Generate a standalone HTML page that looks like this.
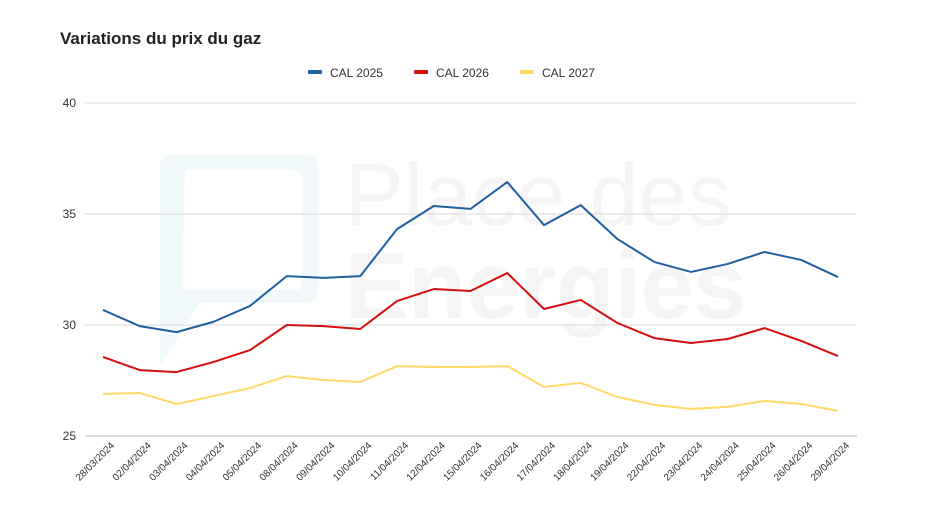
<!DOCTYPE html>
<html><head><meta charset="utf-8"><style>
body{margin:0;background:#fff;width:936px;height:526px;overflow:hidden;font-family:"Liberation Sans",Arial,sans-serif}
svg{display:block}
</style></head><body>
<svg id="chart" width="936" height="526" xmlns="http://www.w3.org/2000/svg">
<g opacity="0.5">
<path d="M172 155 H305 Q318 155 318 168 V290 Q318 303 305 303 H200 L160 365 V168 Q160 155 172 155 Z" fill="#e6f4f7"/>
<path d="M185 170 H295 Q302 170 302 177 V283 Q302 290 295 290 H192 Q180 290 182 278 Z" fill="#fff"/>
<text x="345" y="225" font-size="88" fill="#ececec" font-weight="300">Place des</text>
<text x="345" y="318" font-size="95" fill="#ececec" font-weight="bold">Energies</text>
</g>
<text x="60" y="44" font-size="17" font-weight="bold" fill="#222">Variations du prix du gaz</text>
<g id="legend"></g>
<g id="grid"></g><g id="lines"></g><g id="xlabels"></g>
</svg>
<script>
const categories=["28/03/2024","02/04/2024","03/04/2024","04/04/2024","05/04/2024","08/04/2024","09/04/2024","10/04/2024","11/04/2024","12/04/2024","15/04/2024","16/04/2024","17/04/2024","18/04/2024","19/04/2024","22/04/2024","23/04/2024","24/04/2024","25/04/2024","26/04/2024","29/04/2024"];
const cal2025=[30.68,29.95,29.68,30.14,30.86,32.2,32.12,32.2,34.32,35.36,35.23,36.44,34.5,35.4,33.87,32.84,32.39,32.75,33.29,32.93,32.16];
const cal2026=[28.56,27.97,27.88,28.33,28.87,30.0,29.95,29.82,31.08,31.62,31.53,32.34,30.72,31.13,30.09,29.41,29.19,29.37,29.86,29.28,28.6];
const cal2027=[26.89,26.94,26.44,26.8,27.16,27.7,27.52,27.43,28.15,28.11,28.11,28.15,27.21,27.39,26.76,26.4,26.22,26.31,26.58,26.44,26.13];
const yTicks=[25,30,35,40];
const seriesNames=["CAL 2025","CAL 2026","CAL 2027"];
const NS="http://www.w3.org/2000/svg";
const x0=103,x1=838,yTop=103,yBot=436,vMin=25,vMax=40;
const xs=i=>x0+(x1-x0)*i/(categories.length-1);
const ys=v=>yBot-(v-vMin)/(vMax-vMin)*(yBot-yTop);
function mk(t,a,p){const e=document.createElementNS(NS,t);for(const k in a)e.setAttribute(k,a[k]);p.appendChild(e);return e;}
const grid=document.getElementById('grid');
yTicks.forEach(v=>{
 const l=mk('line',{x1:85,x2:857,y1:ys(v),y2:ys(v),stroke:v===25?'#bbb':'#d9d9d9','stroke-width':1},grid);
 
 
 const t=mk('text',{x:76,y:ys(v)+4,'font-size':12,fill:'#333','text-anchor':'end'},grid);
 t.textContent=v;
 
 
});
const colors=["#1f5fa0","#d40f0f","#ffd966"];
const series=[cal2025,cal2026,cal2027];
const lines=document.getElementById('lines');
series.slice().reverse().forEach((s,ri)=>{
 const k=series.length-1-ri;
 const p=mk('polyline',{points:s.map((v,i)=>xs(i)+','+ys(v)).join(' '),fill:'none',stroke:colors[k],'stroke-width':2,'stroke-linejoin':'round'},lines);
 
 
});
const xl=document.getElementById('xlabels');
categories.forEach((c,i)=>{
 const t=mk('text',{x:0,y:0,'font-size':10,fill:'#333','text-anchor':'end',transform:`translate(${xs(i)+12},${446}) rotate(-45)`},xl);
 t.textContent=c;
 
 
});
const lg=document.getElementById('legend');
const lx=[308,414,520];
seriesNames.forEach((n,k)=>{
 const g=mk('g',{},lg);
 
 
 mk('rect',{x:lx[k],y:70,width:14,height:4,fill:colors[k],rx:1},g);
 const t=mk('text',{x:lx[k]+22,y:77,'font-size':12,fill:'#333'},g);
 t.textContent=n;
});
</script>
</body></html>
